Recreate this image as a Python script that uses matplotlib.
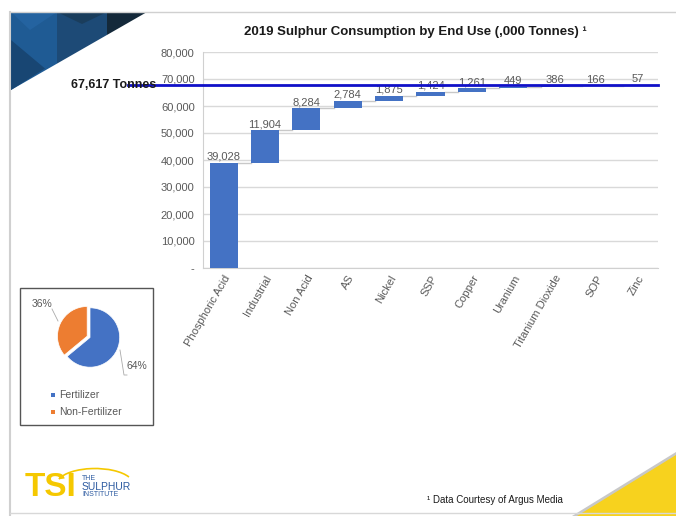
import matplotlib.pyplot as plt
from matplotlib.patches import Polygon, Rectangle, Arc
from matplotlib.transforms import blended_transform_factory
from matplotlib.ticker import FuncFormatter

plt.rcParams['font.family'] = ['Liberation Sans', 'DejaVu Sans']

# data
categories = ["Phosphoric Acid", "Industrial", "Non Acid", "AS", "Nickel", "SSP",
              "Copper", "Uranium", "Titanium Dioxide", "SOP", "Zinc"]
values = [39028, 11904, 8284, 2784, 1875, 1424, 1261, 449, 386, 166, 57]
total_tonnes = 67617
pie_labels = ["Fertilizer", "Non-Fertilizer"]
pie_values = [64, 36]

W, H = 676, 516
fig = plt.figure(figsize=(W / 100, H / 100), dpi=100)


def fx(x):
    return x / W


def fy(y):
    return 1 - y / H


def poly(pts, color, **kw):
    fig.patches.append(Polygon([(fx(a), fy(b)) for a, b in pts], closed=True,
                               transform=fig.transFigure, facecolor=color,
                               edgecolor='none', **kw))


# slide decoration
fig.add_artist(plt.Line2D([fx(10), fx(676)], [fy(12), fy(12)], color='#d0d0d0', lw=1))
fig.add_artist(plt.Line2D([fx(10), fx(10)], [fy(12), fy(516)], color='#d0d0d0', lw=1.5))
fig.add_artist(plt.Line2D([fx(10), fx(676)], [fy(513), fy(513)], color='#d8d8d8', lw=1))


def hyp(x):
    return 12 + (147 - x) * 78 / 136


poly([(11, 12), (57, 12), (57, hyp(57)), (11, 90)], '#1f5b94')
poly([(11, 12), (57, 12), (30, 30)], '#2463a0')
poly([(11, 40), (45, hyp(45) - 2), (11, 90)], '#184673')
poly([(57, 12), (107, 12), (107, hyp(107)), (57, hyp(57))], '#1d4a76')
poly([(57, 12), (107, 12), (82, 24)], '#1a3d5c')
poly([(107, 12), (147, 12), (107, hyp(107))], '#14293a')

poly([(572, 516), (676, 452), (676, 516)], '#c8c8c8')
poly([(577, 516), (676, 455), (676, 516)], '#f7d21e')

# waterfall
ax = fig.add_axes([fx(203), fy(268), fx(658) - fx(203), fy(52) - fy(268)])
bottoms = []
run = 0
for v in values:
    bottoms.append(run)
    run += v
xs = list(range(len(values)))
bw = 0.68
ax.bar(xs, values, bottom=bottoms, width=bw, color='#4472c4', zorder=3)
for i, (b, v) in enumerate(zip(bottoms, values)):
    top = b + v
    ax.text(i, top + 400, f"{v:,}", ha='center', va='bottom', fontsize=8,
            color='#595959', zorder=4)
    if i < len(values) - 1:
        ax.plot([i + bw / 2, i + 1 - bw / 2], [top, top], color='#c8c8c8', lw=1, zorder=2)

ax.set_ylim(0, 80000)
ax.set_xlim(-0.5, len(values) - 0.5)
ax.set_yticks(range(0, 80001, 10000))
ax.yaxis.set_major_formatter(FuncFormatter(lambda v, p: '-' if v == 0 else f"{int(v):,}"))
ax.grid(axis='y', color='#d9d9d9', lw=1, zorder=0)
ax.set_xticks(xs)
ax.set_xticklabels(categories, rotation=60, ha='right', rotation_mode='anchor')
ax.tick_params(length=0, labelsize=8, labelcolor='#595959')
ax.tick_params(axis='y', pad=6)
ax.tick_params(axis='x', pad=4)
for s in ['top', 'right']:
    ax.spines[s].set_visible(False)
for s in ['left', 'bottom']:
    ax.spines[s].set_color('#d0d0d0')

tr = blended_transform_factory(fig.transFigure, ax.transData)
ax.plot([fx(128), fx(658)], [total_tonnes, total_tonnes], transform=tr,
        color='#1010c8', lw=2, clip_on=False, zorder=5)
fig.text(fx(156), fy(85), f"{total_tonnes:,} Tonnes", ha='right', va='center',
         fontsize=9, fontweight='bold', color='#1a1a1a')

fig.text(fx(415), fy(32), "2019 Sulphur Consumption by End Use (,000 Tonnes) \u00b9",
         ha='center', va='center', fontsize=9.5, fontweight='bold', color='#1a1a1a')

# pie inset
fig.patches.append(Rectangle((fx(20), fy(425)), fx(153) - fx(20), fy(288) - fy(425),
                             transform=fig.transFigure, facecolor='none',
                             edgecolor='#555555', lw=1))
pax = fig.add_axes([fx(52), fy(375), fx(128) - fx(52), fy(300) - fy(375)])
pax.pie(pie_values, colors=['#4472c4', '#ed7d31'], startangle=90, counterclock=False,
        explode=[0, 0.1], radius=0.95, wedgeprops=dict(edgecolor='white', lw=0.5))
pax.set_aspect('equal')
pax.set_xlim(-1.2, 1.2)
pax.set_ylim(-1.2, 1.2)
fig.text(fx(42), fy(304), f"{pie_values[1]}%", ha='center', va='center', fontsize=7.5,
         color='#595959')
fig.text(fx(137), fy(366), f"{pie_values[0]}%", ha='center', va='center', fontsize=7.5,
         color='#595959')
fig.add_artist(plt.Line2D([fx(52), fx(58)], [fy(309), fy(321)], color='#aaaaaa', lw=0.6))
fig.add_artist(plt.Line2D([fx(120), fx(124), fx(127)], [fy(350), fy(375), fy(375)],
                          color='#aaaaaa', lw=0.6))
for k, (lab, col) in enumerate(zip(pie_labels, ['#4472c4', '#ed7d31'])):
    yy = 395 + k * 17
    fig.patches.append(Rectangle((fx(51), fy(yy) - 0.004), 0.0055, 0.0075,
                                 transform=fig.transFigure, facecolor=col, edgecolor='none'))
    fig.text(fx(59), fy(yy), lab, ha='left', va='center', fontsize=7.5, color='#595959')

# logo
fig.text(fx(25), fy(487), "TSI", ha='left', va='center', fontsize=24, fontweight='bold',
         color='#f5c800')
fig.patches.append(Arc((fx(95), fy(484)), fx(76), 0.06, theta1=15, theta2=170,
                       transform=fig.transFigure, color='#f5c800', lw=1.2))
fig.text(fx(82), fy(479), "THE", ha='left', va='center', fontsize=5, color='#2c5aa0')
fig.text(fx(82), fy(487), "SULPHUR", ha='left', va='center', fontsize=7.5, color='#2c5aa0')
fig.text(fx(82), fy(495), "INSTITUTE", ha='left', va='center', fontsize=5, color='#2c5aa0')

fig.text(fx(427), fy(500), "\u00b9 Data Courtesy of Argus Media", ha='left', va='center',
         fontsize=7, color='#1a1a1a')

fig.savefig("out.png", dpi=100)
